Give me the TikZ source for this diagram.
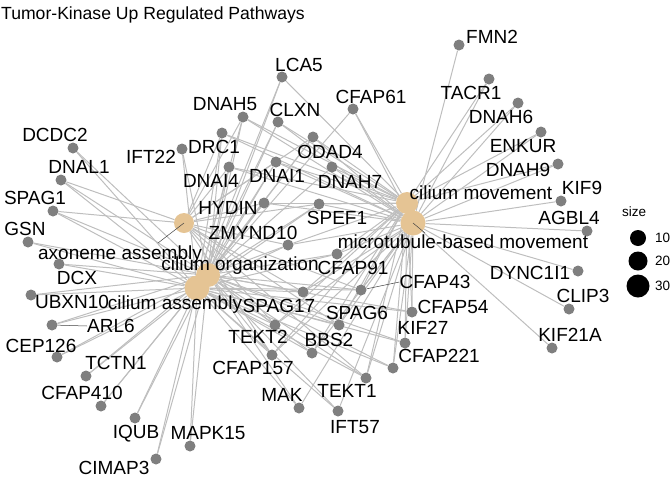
\documentclass[tikz,border=0pt]{standalone}
\usepackage{fontspec}
\setmainfont{Liberation Sans}
\pgfdeclarelayer{background}
\pgfsetlayers{background,main}
\definecolor{hubc}{HTML}{E5C494}
\definecolor{genec}{HTML}{7F7F7F}
\definecolor{edgec}{HTML}{BEBEBE}
\begin{document}
\begin{tikzpicture}[x=1pt,y=-1pt,
 gene/.style={circle,fill=genec,inner sep=0,minimum size=11pt},
 hub/.style={circle,fill=hubc,inner sep=0},
 lab/.style={inner sep=0,text height=13.6pt,text depth=0pt,font=\fontsize{19}{19}\selectfont},
 small/.style={inner sep=0,text height=9.5pt,text depth=0pt,font=\fontsize{13.5}{13.5}\selectfont},
 edge/.style={draw=edgec,line width=1pt},
 seg/.style={draw=black!75,line width=0.5pt},
 key/.style={circle,fill=black,inner sep=0}]
 \useasboundingbox (0,0) rectangle (672,480);
 \node[anchor=base west,inner sep=0,font=\fontsize{17.6}{17.6}\selectfont] (title) at (1,19) {Tumor-Kinase Up Regulated Pathways};
 % genes
 \node[gene] (FMN2) at (459,45) {};    \node[lab] (lFMN2) at (492,37) {FMN2};
 \node[gene] (TACR1) at (489,79) {};   \node[lab] (lTACR1) at (471,93) {TACR1};
 \node[gene] (LCA5) at (282,77) {};    \node[lab] (lLCA5) at (299,65) {LCA5};
 \node[gene] (CFAP61) at (353,109) {}; \node[lab] (lCFAP61) at (371,97) {CFAP61};
 \node[gene] (DNAH6) at (518,103) {};  \node[lab] (lDNAH6) at (501,117) {DNAH6};
 \node[gene] (DNAH5) at (243,117) {};  \node[lab] (lDNAH5) at (225,104) {DNAH5};
 \node[gene] (CLXN) at (278,122) {};   \node[lab] (lCLXN) at (295,110) {CLXN};
 \node[gene] (DCDC2) at (73,148) {};   \node[lab] (lDCDC2) at (55,135) {DCDC2};
 \node[gene] (DRC1) at (222,133) {};   \node[lab] (lDRC1) at (214,147) {DRC1};
 \node[gene] (ENKUR) at (541,132) {};  \node[lab] (lENKUR) at (523,146) {ENKUR};
 \node[gene] (ODAD4) at (313,137) {};  \node[lab] (lODAD4) at (330,152) {ODAD4};
 \node[gene] (IFT22) at (182,149) {};  \node[lab] (lIFT22) at (151,157) {IFT22};
 \node[gene] (DNAI1) at (276,162) {};  \node[lab] (lDNAI1) at (277,176) {DNAI1};
 \node[gene] (DNAH9) at (558,164) {};  \node[lab] (lDNAH9) at (518,170) {DNAH9};
 \node[gene] (DNAI4) at (229,167) {};  \node[lab] (lDNAI4) at (211,181) {DNAI4};
 \node[gene] (DNAH7) at (332,167) {};  \node[lab] (lDNAH7) at (350,182) {DNAH7};
 \node[gene] (DNAL1) at (61,180) {};   \node[lab] (lDNAL1) at (79,167) {DNAL1};
 \node[gene] (HYDIN) at (264,203) {};  \node[lab] (lHYDIN) at (228,208) {HYDIN};
 \node[gene] (SPEF1) at (319,204) {};  \node[lab] (lSPEF1) at (337,218) {SPEF1};
 \node[gene] (KIF9) at (561,201) {};   \node[lab] (lKIF9) at (582,188) {KIF9};
 \node[gene] (SPAG1) at (53,211) {};   \node[lab] (lSPAG1) at (35,198) {SPAG1};
 \node[gene] (AGBL4) at (587,231) {};  \node[lab] (lAGBL4) at (569,218) {AGBL4};
 \node[gene] (GSN) at (28,242) {};     \node[lab] (lGSN) at (25,229) {GSN};
 \node[gene] (ZMYND10) at (288,245) {};\node[lab] (lZMYND10) at (253,233) {ZMYND10};
 \node[gene] (CFAP91) at (337,254) {}; \node[lab] (lCFAP91) at (353,268) {CFAP91};
 \node[gene] (DCX) at (59,264) {};     \node[lab] (lDCX) at (77,278) {DCX};
 \node[gene] (DYNC1I1) at (578,271) {};\node[lab] (lDYNC1I1) at (530,273) {DYNC1I1};
 \node[gene] (CFAP43) at (361,290) {}; \node[lab] (lCFAP43) at (435,282) {CFAP43};
 \node[gene] (SPAG17) at (303,292) {}; \node[lab] (lSPAG17) at (279,306) {SPAG17};
 \node[gene] (UBXN10) at (31,295) {};  \node[lab] (lUBXN10) at (72,302) {UBXN10};
 \node[gene] (CFAP54) at (412,312) {}; \node[lab] (lCFAP54) at (453,307) {CFAP54};
 \node[gene] (SPAG6) at (339,325) {};  \node[lab] (lSPAG6) at (357,313) {SPAG6};
 \node[gene] (TEKT2) at (275,325) {};  \node[lab] (lTEKT2) at (258,337) {TEKT2};
 \node[gene] (ARL6) at (52,325) {};    \node[lab] (lARL6) at (111,326) {ARL6};
 \node[gene] (CLIP3) at (569,309) {};  \node[lab] (lCLIP3) at (583,296) {CLIP3};
 \node[gene] (KIF27) at (405,343) {};  \node[lab] (lKIF27) at (423,328) {KIF27};
 \node[gene] (BBS2) at (312,353) {};   \node[lab] (lBBS2) at (329,340) {BBS2};
 \node[gene] (CFAP157) at (272,355) {};\node[lab] (lCFAP157) at (253,368) {CFAP157};
 \node[gene] (CEP126) at (57,357) {};  \node[lab] (lCEP126) at (41,346) {CEP126};
 \node[gene] (CFAP221) at (393,368) {};\node[lab] (lCFAP221) at (439,356) {CFAP221};
 \node[gene] (TCTN1) at (86,376) {};   \node[lab] (lTCTN1) at (116,363) {TCTN1};
 \node[gene] (KIF21A) at (552,348) {}; \node[lab] (lKIF21A) at (570,335) {KIF21A};
 \node[gene] (TEKT1) at (366,378) {};  \node[lab] (lTEKT1) at (347,391) {TEKT1};
 \node[gene] (CFAP410) at (101,406) {};\node[lab] (lCFAP410) at (82,393) {CFAP410};
 \node[gene] (MAK) at (299,408) {};    \node[lab] (lMAK) at (282,395) {MAK};
 \node[gene] (IFT57) at (338,411) {};  \node[lab] (lIFT57) at (355,427) {IFT57};
 \node[gene] (IQUB) at (135,418) {};   \node[lab] (lIQUB) at (136,432) {IQUB};
 \node[gene] (MAPK15) at (190,446) {}; \node[lab] (lMAPK15) at (208,433) {MAPK15};
 \node[gene] (CIMAP3) at (156,459) {}; \node[lab] (lCIMAP3) at (114,468) {CIMAP3};
 % pathways
 \node[hub,minimum size=20pt] (AA) at (184,223) {};
 \node[hub,minimum size=25pt] (CA) at (197,288) {};
 \node[hub,minimum size=24pt] (CO) at (208,275) {};
 \node[hub,minimum size=22pt] (CM) at (407,203) {};
 \node[hub,minimum size=25pt] (MBM) at (413,223) {};
 \coordinate (sAA) at (158,243);
 \coordinate (sMBM) at (425,233);
 \draw[seg] (AA.center) -- (sAA);
 \draw[seg] (MBM.center) -- (sMBM);
 \draw[seg] (CFAP43) -- (lCFAP43.west);
 \draw[seg] (ARL6) -- (lARL6.west);
 \node[lab] (lAA) at (120,253) {axoneme assembly};
 \node[lab] (lCO) at (240,264) {cilium organization};
 \node[lab] (lCA) at (175,303) {cilium assembly};
 \node[lab] (lCM) at (481,193) {cilium movement};
 \node[lab] (lMBM) at (463,242) {microtubule-based movement};
 % legend
 \node[small] (size) at (634,212) {size};
 \node[key,minimum size=16pt] (k10) at (638,238) {};
 \node[key,minimum size=19pt] (k20) at (638,261) {};
 \node[key,minimum size=23pt] (k30) at (638,286) {};
 \node[small,anchor=west] (t10) at (655,238) {10};
 \node[small,anchor=west] (t20) at (655,261) {20};
 \node[small,anchor=west] (t30) at (655,286) {30};
 % links
 \begin{pgfonlayer}{background}
 \foreach \g in {DNAH5,DRC1,ODAD4,DNAI4,DNAI1,HYDIN,SPEF1,ZMYND10,CFAP43,SPAG6,
   SPAG17,TEKT2,CFAP157,TEKT1,DNAL1,SPAG1}
   \draw[edge] (\g) -- (AA);
 \foreach \g in {CFAP61,LCA5,DNAH5,CLXN,DRC1,ODAD4,DNAI4,DNAI1,DNAH7,HYDIN,SPEF1,
   ZMYND10,CFAP91,CFAP43,CFAP54,SPAG6,SPAG17,TEKT2,BBS2,KIF27,CFAP157,CFAP221,
   TEKT1,MAK,IFT57,DCDC2,DNAL1,IFT22,SPAG1,GSN,DCX,UBXN10,ARL6,CEP126,TCTN1,
   CFAP410,IQUB,MAPK15,CIMAP3}
   \draw[edge] (\g) -- (CO);
 \foreach \g in {LCA5,DNAH5,CLXN,DRC1,ODAD4,DNAI4,DNAI1,HYDIN,SPEF1,ZMYND10,CFAP91,
   CFAP43,CFAP54,SPAG6,SPAG17,TEKT2,BBS2,KIF27,CFAP157,CFAP221,TEKT1,MAK,IFT57,
   DCDC2,DNAL1,IFT22,SPAG1,GSN,DCX,UBXN10,ARL6,CEP126,TCTN1,CFAP410,IQUB,MAPK15,
   CIMAP3}
   \draw[edge] (\g) -- (CA);
 \foreach \g in {TACR1,DNAH6,ENKUR,DNAH9,CFAP61,LCA5,DNAH5,CLXN,DRC1,ODAD4,DNAI4,
   DNAI1,DNAH7,HYDIN,SPEF1,ZMYND10,CFAP91,CFAP43,CFAP54,SPAG6,SPAG17,TEKT2,BBS2,
   KIF27,CFAP157,CFAP221,TEKT1}
   \draw[edge] (\g) -- (CM);
 \foreach \g in {FMN2,TACR1,DNAH6,ENKUR,DNAH9,KIF9,AGBL4,DYNC1I1,CLIP3,KIF21A,
   CFAP61,DNAH5,CLXN,DRC1,ODAD4,DNAI4,DNAI1,DNAH7,HYDIN,SPEF1,ZMYND10,CFAP91,
   CFAP43,CFAP54,SPAG6,SPAG17,TEKT2,BBS2,KIF27,CFAP157,CFAP221,TEKT1,MAK,IFT57}
   \draw[edge] (\g) -- (MBM);
 \end{pgfonlayer}
\end{tikzpicture}
\end{document}
